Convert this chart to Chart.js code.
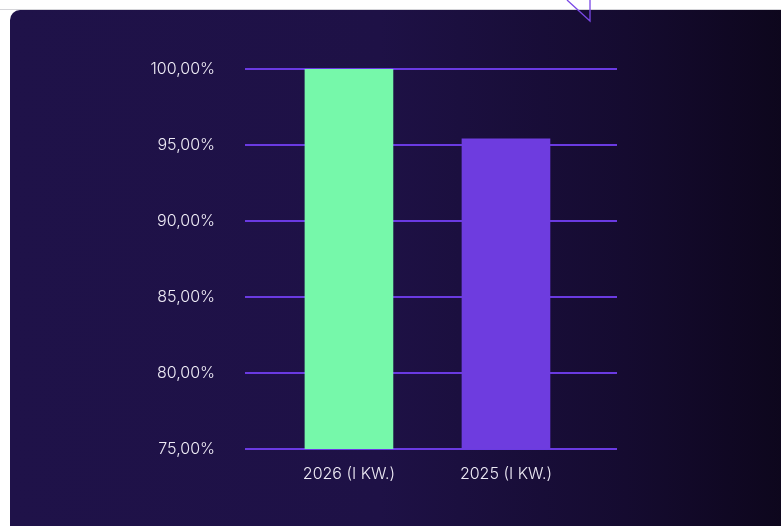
<!DOCTYPE html>
<html>
<head>
<meta charset="utf-8">
<script src="https://cdn.jsdelivr.net/npm/chart.js@4"></script>
<style>
  html,body{margin:0;padding:0;background:#fff;width:781px;height:526px;overflow:hidden;}
  .topline{position:absolute;left:0;top:9px;width:781px;height:1px;background:#d4d4d8;}
  .panel{position:absolute;left:10px;top:10px;width:820px;height:560px;border-radius:10px;
    background:linear-gradient(90deg,#1f1249 0%,#1e1146 45%,#150b30 75%,#0b0517 100%);}
  .deco{position:absolute;left:0;top:0;}
  .wrap{position:absolute;left:0;top:0;width:781px;height:526px;}
</style>
</head>
<body>
<div class="topline"></div>
<div class="panel"></div>
<svg class="deco" width="781" height="30"><polyline points="567,0 590,21 590,0" fill="none" stroke="#7a48e6" stroke-width="1.3"/></svg>
<div class="wrap"><canvas id="c" width="781" height="526"></canvas></div>
<script>
// dane
const CATEGORIES = ['2026 (I KW.)', '2025 (I KW.)'];
const XPOS = [1, 2];
const VALUES = [100, 95.4];
const BAR_COLORS = ['#76f8aa', '#6e3cdf'];
const Y_TICKS = [75, 80, 85, 90, 95, 100];

const fmtPct = v => v.toFixed(2).replace('.', ',') + '%';
const GRID = '#6a3ae2';
const TXT = '#eeebf5';
const FONT = {family: 'Inter', size: 16, weight: '300'};

new Chart(document.getElementById('c').getContext('2d'), {
  type: 'bar',
  data: {
    datasets: [{
      data: XPOS.map((x, i) => ({x, y: VALUES[i]})),
      backgroundColor: BAR_COLORS,
      barThickness: 88,
      borderWidth: 0
    }]
  },
  options: {
    responsive: false, animation: false,
    layout: {padding: {top: 69, right: 164, left: 0, bottom: 0}},
    plugins: {legend: {display: false}, tooltip: {enabled: false}},
    scales: {
      x: {
        type: 'linear', min: 0.338, max: 2.707, offset: false, bounds: 'data',
        grid: {display: false, drawTicks: false},
        border: {display: false},
        afterBuildTicks: s => { s.ticks = XPOS.map(v => ({value: v})); },
        afterFit: s => { s.height = 77; },
        ticks: {color: TXT, font: FONT, padding: 16, maxRotation: 0,
          callback: v => CATEGORIES[XPOS.indexOf(v)] || ''}
      },
      y: {
        min: Y_TICKS[0], max: Y_TICKS[Y_TICKS.length - 1],
        afterBuildTicks: s => { s.ticks = Y_TICKS.map(v => ({value: v})); },
        afterFit: s => { s.width = 245; },
        grid: {color: GRID, lineWidth: 2, drawTicks: false},
        border: {display: false},
        ticks: {color: TXT, font: FONT, padding: 30, callback: v => fmtPct(v)}
      }
    }
  }
});
</script>
</body>
</html>
